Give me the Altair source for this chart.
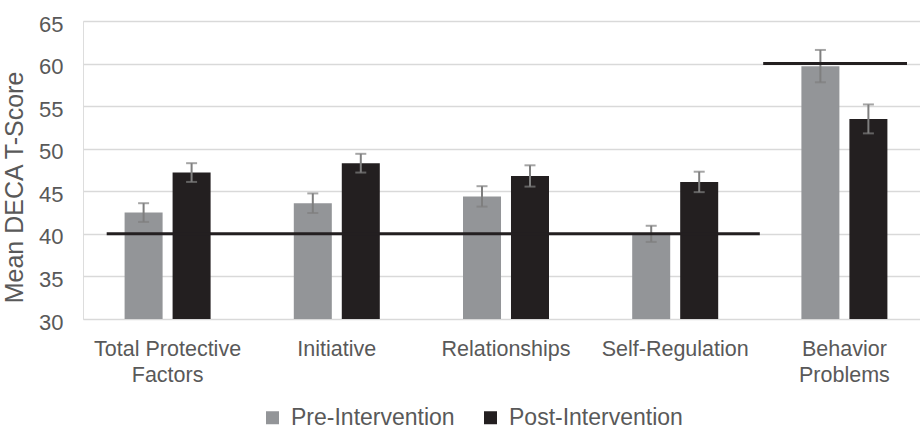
import altair as alt
import pandas as pd

categories = ["Total Protective Factors", "Initiative", "Relationships", "Self-Regulation", "Behavior Problems"]
series = ["Pre-Intervention", "Post-Intervention"]
pre_values = [42.5, 43.6, 44.4, 40.0, 59.7]
post_values = [47.2, 48.3, 46.8, 46.1, 53.5]
pre_err = [1.1, 1.15, 1.2, 0.95, 1.9]
post_err = [1.1, 1.1, 1.25, 1.2, 1.7]
# threshold reference lines: (start, end) in category-index units, value
ref_start = [0.14, 4.02]
ref_end = [4.0, 4.87]
ref_value = [40, 60]

rows = []
for i, c in enumerate(categories):
    rows.append({"cat": c, "series": series[0], "v": pre_values[i],
                 "lo": pre_values[i] - pre_err[i], "hi": pre_values[i] + pre_err[i]})
    rows.append({"cat": c, "series": series[1], "v": post_values[i],
                 "lo": post_values[i] - post_err[i], "hi": post_values[i] + post_err[i]})
df = pd.DataFrame(rows)
ref = pd.DataFrame({"s": ref_start, "e": ref_end, "v": ref_value})

label_expr = ("datum.value == 'Total Protective Factors' ? ['Total Protective', 'Factors'] : "
              "datum.value == 'Behavior Problems' ? ['Behavior', 'Problems'] : datum.value")

x_enc = alt.X("cat:N", sort=categories, title=None,
              scale=alt.Scale(paddingInner=0.4917, paddingOuter=0.24585, range=[0, 846]),
              axis=alt.Axis(labelExpr=label_expr, labelAngle=0, labelFontSize=21.5,
                            labelColor="#595959", labelPadding=19, labelLineHeight=26,
                            domain=False, ticks=False, grid=False, labelFont="Liberation Sans"))
xoff = alt.XOffset("series:N", sort=series, scale=alt.Scale(paddingInner=0.208, paddingOuter=0))
y_scale = alt.Scale(domain=[30, 65], zero=False, nice=False)

bars = alt.Chart(df).mark_bar(clip=False).encode(
    x=x_enc,
    xOffset=xoff,
    y=alt.Y("v:Q", scale=y_scale, title="Mean DECA T-Score",
            axis=alt.Axis(values=[30, 35, 40, 45, 50, 55, 60, 65], domain=False, ticks=False,
                          labelFontSize=22, labelColor="#595959", labelPadding=20, labelOffset=3,
                          gridColor="#d9d9d9", gridWidth=1.3,
                          titleFontSize=25, titleColor="#595959", titleFontWeight="normal",
                          titleX=-56, titleY=166, titleAngle=270)),
    y2=alt.datum(30),
    color=alt.Color("series:N", sort=series,
                    scale=alt.Scale(domain=series, range=["#939598", "#231f20"]),
                    legend=alt.Legend(title=None, orient="none", direction="horizontal",
                                      legendX=178, legendY=385, symbolType="square",
                                      symbolSize=169, symbolStrokeWidth=0,
                                      labelFontSize=23, labelColor="#595959", labelLimit=0,
                                      labelOffset=7, columnPadding=24)),
)

err = alt.Chart(df).mark_rule(color="#7f7f7f", strokeWidth=2).encode(
    x=alt.X("cat:N", sort=categories),
    xOffset=xoff,
    y=alt.Y("lo:Q", scale=y_scale),
    y2="hi:Q",
)
cap_lo = alt.Chart(df).mark_tick(color="#7f7f7f", size=11, thickness=2).encode(
    x=alt.X("cat:N", sort=categories), xOffset=xoff, y=alt.Y("lo:Q", scale=y_scale))
cap_hi = alt.Chart(df).mark_tick(color="#7f7f7f", size=11, thickness=2).encode(
    x=alt.X("cat:N", sort=categories), xOffset=xoff, y=alt.Y("hi:Q", scale=y_scale))

refl = alt.Chart(ref).mark_rule(color="#231f20", strokeWidth=3).encode(
    x=alt.X("s:Q", scale=alt.Scale(domain=[0, 5], nice=False, zero=False, range=[0, 846]), axis=None),
    x2="e:Q",
    y=alt.Y("v:Q", scale=y_scale),
)

inner = alt.layer(bars, err, cap_lo, cap_hi)
chart = alt.layer(inner, refl).resolve_scale(x="independent").properties(
    width=837, height=298,
    autosize=alt.AutoSizeParams(type="none"),
    padding={"left": 83, "top": 21, "right": 0, "bottom": 110},
).configure_view(stroke=None).configure(font="Liberation Sans")

chart.save("out.html", embed_options={"renderer": "svg", "actions": False})
